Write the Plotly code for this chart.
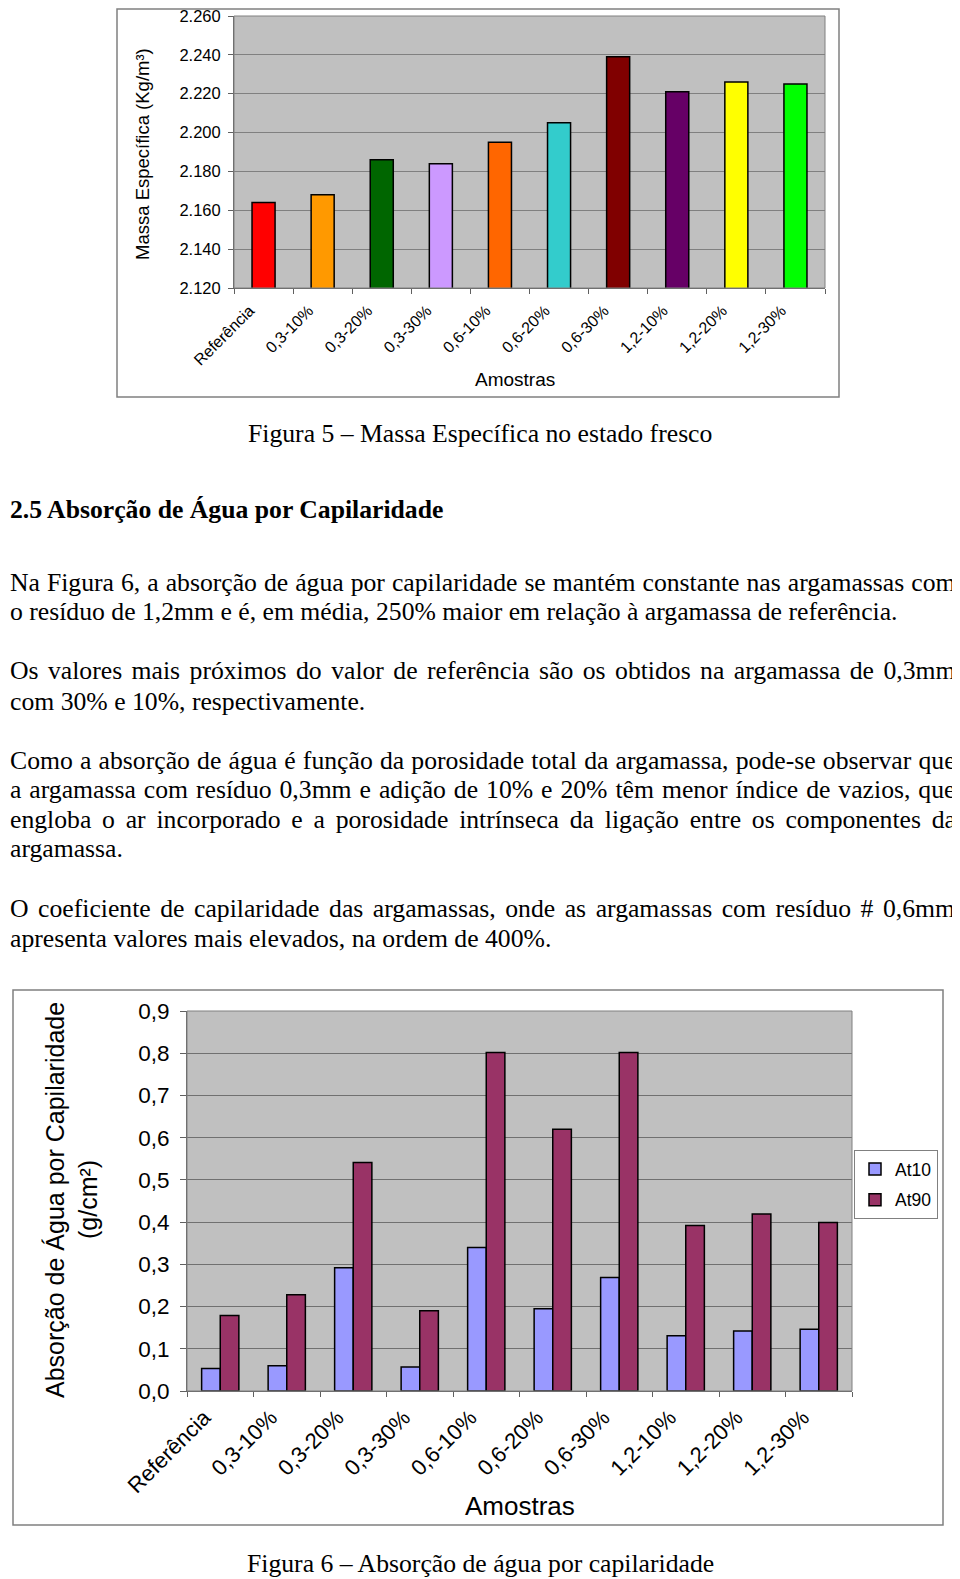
import plotly.graph_objects as go

# ---------------- data ----------------
categorias = ["Referência", "0,3-10%", "0,3-20%", "0,3-30%", "0,6-10%",
              "0,6-20%", "0,6-30%", "1,2-10%", "1,2-20%", "1,2-30%"]
massa_especifica = [2.164, 2.168, 2.186, 2.184, 2.195, 2.205, 2.239, 2.221, 2.226, 2.225]
cores_massa = ["#FF0000", "#FF9900", "#006600", "#CC99FF", "#FF6600",
               "#33CCCC", "#800000", "#660066", "#FFFF00", "#00FF00"]
ticks_massa = [2.12, 2.14, 2.16, 2.18, 2.20, 2.22, 2.24, 2.26]
ticks_massa_txt = ["2.120", "2.140", "2.160", "2.180", "2.200", "2.220", "2.240", "2.260"]

at10 = [0.053, 0.060, 0.292, 0.057, 0.340, 0.195, 0.269, 0.131, 0.142, 0.146]
at90 = [0.179, 0.228, 0.541, 0.190, 0.802, 0.620, 0.802, 0.392, 0.419, 0.399]
ticks_abs = [0.0, 0.1, 0.2, 0.3, 0.4, 0.5, 0.6, 0.7, 0.8, 0.9]
ticks_abs_txt = ["0,0", "0,1", "0,2", "0,3", "0,4", "0,5", "0,6", "0,7", "0,8", "0,9"]

caption5 = "Figura 5 – Massa Específica no estado fresco"
caption6 = "Figura 6 – Absorção de água por capilaridade"
heading = "2.5 Absorção de Água por Capilaridade"
paragraphs = [
    ["Na Figura 6, a absorção de água por capilaridade se mantém constante nas argamassas com",
     "o resíduo de 1,2mm e é, em média, 250% maior em relação à argamassa de referência."],
    ["Os valores mais próximos do valor de referência são os obtidos na argamassa de 0,3mm",
     "com 30% e 10%, respectivamente."],
    ["Como a absorção de água é função da porosidade total da argamassa, pode-se observar que",
     "a argamassa com resíduo 0,3mm e adição de 10% e 20% têm menor índice de vazios, que",
     "engloba o ar incorporado e a porosidade intrínseca da ligação entre os componentes da",
     "argamassa."],
    ["O coeficiente de capilaridade das argamassas, onde as argamassas com resíduo # 0,6mm",
     "apresenta valores mais elevados, na ordem de 400%."],
]
paragraph_line_y = [[582, 611], [671, 701], [760, 790, 819, 849], [908, 938]]

# ---------------- helpers ----------------
OFF = 8                      # default page margin around the figure div
W, H = 960 - OFF, 1579 - OFF
def px(x): return (x - OFF) / W
def py(y): return 1 - (y - OFF) / H

# Times / Liberation Serif advance widths (1/1000 em)
_groups = {
    250: " ,.", 278: "ijlt:;íìî", 333: "frI-()!", 389: "sJ",
    444: "acezáàãâéêç", 500: "bdghknopquvxy0123456789#óôõú–",
    556: "FPS", 611: "ETLZ", 667: "BCR", 722: "wADGHKNOQUVXYÁ",
    778: "m", 833: "%", 889: "M", 944: "W",
}
WIDTH = {}
for w, chars in _groups.items():
    for c in chars:
        WIDTH[c] = w

def text_width(s, size):
    return sum(WIDTH.get(c, 500) for c in s) * size / 1000.0

BODY = 25.7
LEFT, RIGHT = 8.5, 955

fig = go.Figure()

# ---------------- chart 1 ----------------
fig.add_trace(go.Bar(
    x=categorias, y=massa_especifica, xaxis="x", yaxis="y",
    marker=dict(color=cores_massa, line=dict(color="black", width=1.5)),
    width=0.39, showlegend=False))

# ---------------- chart 2 ----------------
fig.add_trace(go.Bar(
    x=categorias, y=at10, name="At10", xaxis="x2", yaxis="y2", legendgroup="a",
    marker=dict(color="#9999FF", line=dict(color="black", width=1.5))))
fig.add_trace(go.Bar(
    x=categorias, y=at90, name="At90", xaxis="x2", yaxis="y2", legendgroup="b",
    marker=dict(color="#993366", line=dict(color="black", width=1.5))))

sans = "Liberation Sans, Arial, sans-serif"
serif = "Liberation Serif, Times New Roman, serif"

fig.update_layout(
    width=W, height=H, margin=dict(l=0, r=0, t=0, b=0, pad=0, autoexpand=False),
    paper_bgcolor="white", plot_bgcolor="#C0C0C0",
    barmode="group", bargap=0.44, bargroupgap=0,
    font=dict(family=sans, color="black"),
    xaxis=dict(domain=[px(234), px(825)], anchor="y", type="category", automargin=False,
               tickson="boundaries", ticks="outside", ticklen=5, tickcolor="#606060",
               tickangle=-45, tickfont=dict(size=16, family=sans),
               ticklabelshift=-14, ticklabelstandoff=6,
               showline=True, linecolor="#606060", linewidth=1,
               showgrid=False),
    yaxis=dict(domain=[py(288), py(16)], anchor="x", range=[2.12, 2.26], automargin=False,
               tickvals=ticks_massa, ticktext=ticks_massa_txt, ticklabeloverflow="allow",
               ticks="outside", ticklen=5, tickcolor="#606060", ticklabelstandoff=4,
               tickfont=dict(size=16.5, family=sans),
               showline=True, linecolor="#606060", linewidth=1,
               showgrid=True, gridcolor="#808080", gridwidth=1, zeroline=False),
    xaxis2=dict(domain=[px(187), px(852)], anchor="y2", type="category", automargin=False,
                tickson="boundaries", ticks="outside", ticklen=5, tickcolor="#606060",
                tickangle=-45, tickfont=dict(size=22, family=sans),
                ticklabelshift=-16, ticklabelstandoff=4,
                showline=True, linecolor="#606060", linewidth=1,
                showgrid=False),
    yaxis2=dict(domain=[py(1391), py(1011)], anchor="x2", range=[0, 0.9], automargin=False,
                tickvals=ticks_abs, ticktext=ticks_abs_txt,
                ticks="outside", ticklen=6, tickcolor="#606060", ticklabelstandoff=6,
                tickfont=dict(size=22.5, family=sans),
                showline=True, linecolor="#606060", linewidth=1,
                showgrid=True, gridcolor="#707070", gridwidth=1, zeroline=False),
    legend=dict(x=px(938), y=py(1150), xanchor="right", yanchor="top",
                bgcolor="white", bordercolor="#808080", borderwidth=1,
                font=dict(size=17.5, family=sans), itemwidth=30,
                tracegroupgap=5),
)

# frames and plot-area borders
shapes = [
    dict(type="rect", xref="paper", yref="paper", x0=px(117), x1=px(839),
         y0=py(397), y1=py(9), line=dict(color="#808080", width=1.5)),
    dict(type="rect", xref="paper", yref="paper", x0=px(13), x1=px(943),
         y0=py(1525), y1=py(990), line=dict(color="#808080", width=1.5)),
    dict(type="rect", xref="x domain", yref="y domain", x0=0, x1=1, y0=0, y1=1,
         line=dict(color="#808080", width=1)),
    dict(type="rect", xref="x2 domain", yref="y2 domain", x0=0, x1=1, y0=0, y1=1,
         line=dict(color="#808080", width=1)),
]
fig.update_layout(shapes=shapes)

def note(text, x, y, size, family=sans, angle=0, xanchor="center"):
    return dict(text=text, x=px(x), y=py(y), xref="paper", yref="paper",
                xanchor=xanchor, yanchor="middle", textangle=angle,
                showarrow=False, borderpad=0, font=dict(size=size, family=family))

ann = []
# axis titles
ann.append(note("Massa Específica (Kg/m³)", 143, 154, 18.5, angle=-90))
ann.append(note("Amostras", 515, 379, 19))
ann.append(note("Absorção de Água por Capilaridade", 55, 1200, 25, angle=-90))
ann.append(note("(g/cm²)", 88, 1200, 25, angle=-90))
ann.append(note("Amostras", 520, 1506, 26))

# captions and heading
ann.append(note(caption5, 480, 433, BODY, family=serif))
ann.append(note(caption6, 480, 1563, BODY, family=serif))
ann.append(note("<b>" + heading + "</b>", LEFT, 509, BODY, family=serif, xanchor="left"))

# body text, justified lines
for lines, ys in zip(paragraphs, paragraph_line_y):
    for i, (line, y) in enumerate(zip(lines, ys)):
        txt = line
        if i < len(lines) - 1:
            nat = text_width(line, BODY)
            nsp = line.count(" ")
            ws = max(0.0, (RIGHT - LEFT - nat) / nsp)
            txt = '<span style="word-spacing:%.2fpx">%s</span>' % (ws, line)
        ann.append(note(txt, LEFT, y, BODY, family=serif, xanchor="left"))

fig.update_layout(annotations=ann)
fig.write_html("out.html")
